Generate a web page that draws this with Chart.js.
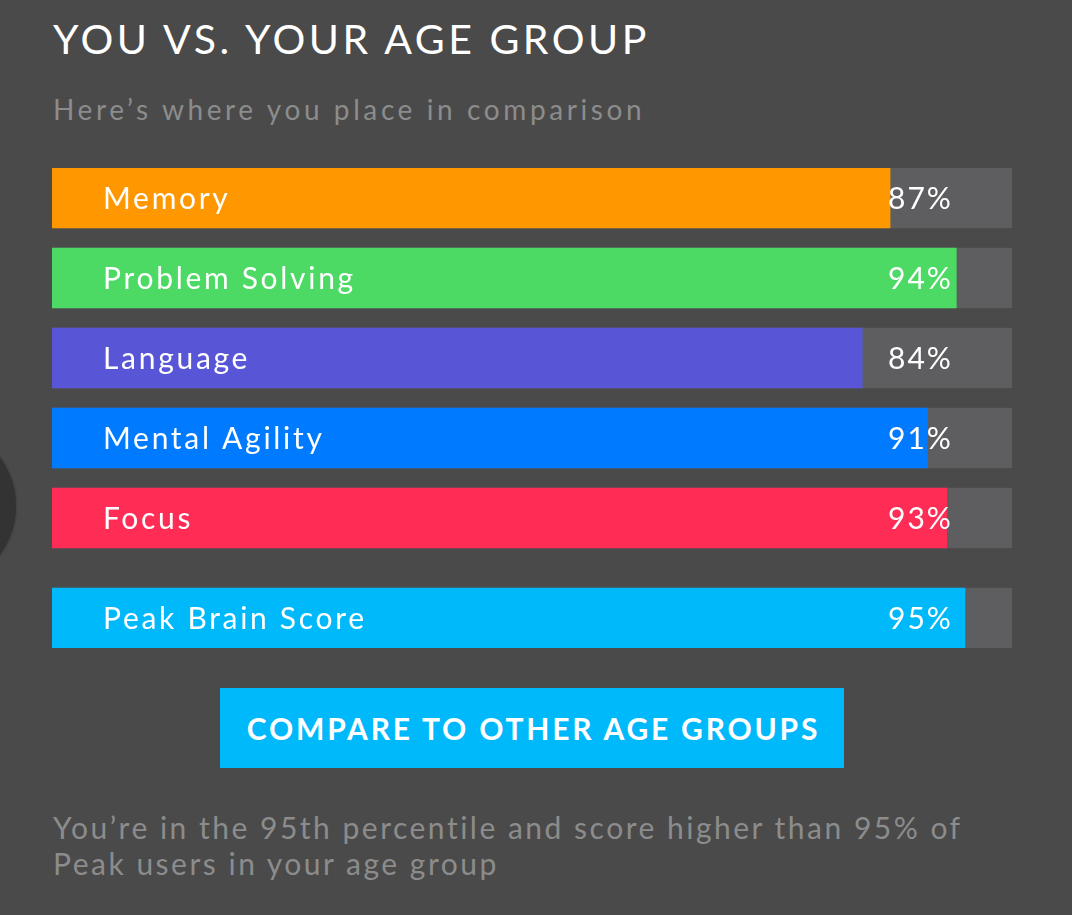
<!DOCTYPE html>
<html><head><meta charset="utf-8">
<script src="https://cdn.jsdelivr.net/npm/chart.js@4.4.0/dist/chart.umd.min.js"></script>
<style>
html,body{margin:0;padding:0;width:1072px;height:915px;background:#4a4a4a;overflow:hidden;font-family:Lato,"Open Sans",sans-serif;}
#circle{position:absolute;left:-148px;top:424px;width:164px;height:164px;border-radius:50%;background:#333333;box-shadow:0 0 3px rgba(0,0,0,0.3);}
#title{position:absolute;left:53px;top:15px;font-size:41px;line-height:48px;color:#fff;letter-spacing:3.5px;white-space:nowrap;}
#sub{position:absolute;left:53px;top:91px;font-size:28px;line-height:36px;color:#8c8c8c;letter-spacing:3.6px;white-space:nowrap;}
#wrap{position:absolute;left:52px;top:168px;width:960px;height:480px;}
#btn{position:absolute;left:220px;top:688px;width:624px;height:80px;background:#00b9fb;color:#fff;font-weight:bold;font-size:30px;letter-spacing:2.8px;display:flex;align-items:center;justify-content:center;white-space:nowrap;box-sizing:border-box;padding-left:3px;}
#foot{position:absolute;left:53px;top:809px;font-size:30px;line-height:36px;color:#8c8c8c;letter-spacing:2.5px;white-space:nowrap;}
</style></head><body>
<div id="circle"></div>
<div id="title">YOU VS. YOUR AGE GROUP</div>
<div id="sub">Here’s where you place in comparison</div>
<div id="wrap"><canvas id="c" width="960" height="480"></canvas></div>
<div id="btn">COMPARE TO OTHER AGE GROUPS</div>
<div id="foot">You’re in the 95th percentile and score higher than 95% of<br>Peak users in your age group</div>
<script>
const categories = ["Memory","Problem Solving","Language","Mental Agility","Focus","Peak Brain Score"];
const scoreLabels = ["87%","94%","84%","91%","93%","95%"];
const barValues = [87.3,94.2,84.4,91.2,93.2,95.1];
const positions = [0,1,2,3,4,5.25];
const barColors = ["#ff9800","#4cd964","#5856d6","#007aff","#ff2d55","#00b9fb"];
const fullScale = 100;

const labelPlugin = {
  id:'labels',
  afterDatasetsDraw(chart){
    const ctx = chart.ctx;
    const meta = chart.getDatasetMeta(0);
    const xs = chart.scales.x;
    ctx.save();
    ctx.fillStyle = '#ffffff';
    ctx.textBaseline = 'middle';
    ctx.font = '30px Lato, "Open Sans", sans-serif';
    meta.data.forEach((bar,i)=>{
      ctx.textAlign='left';
      try{ctx.letterSpacing='2.7px';}catch(e){}
      ctx.fillText(categories[i], xs.left + 51, bar.y+1);
      try{ctx.letterSpacing='2px';}catch(e){}
      ctx.fillText(scoreLabels[i], xs.left + 836, bar.y+1);
    });
    ctx.restore();
  }
};

new Chart(document.getElementById('c'),{
  type:'bar',
  data:{
    datasets:[
      {data:positions.map((p,i)=>({x:barValues[i],y:p})),backgroundColor:barColors,barThickness:60,grouped:false,order:1,borderWidth:0},
      {data:positions.map(p=>({x:fullScale,y:p})),backgroundColor:'#5e5e60',barThickness:60,grouped:false,order:2,borderWidth:0}
    ]
  },
  options:{
    indexAxis:'y',
    responsive:false,
    animation:false,
    events:[],
    layout:{padding:0},
    plugins:{legend:{display:false},tooltip:{enabled:false}},
    scales:{
      x:{type:'linear',min:0,max:100,display:false,offset:false},
      y:{type:'linear',min:-0.375,max:5.625,reverse:true,display:false,offset:false}
    }
  },
  plugins:[labelPlugin]
});
</script>
</body></html>
